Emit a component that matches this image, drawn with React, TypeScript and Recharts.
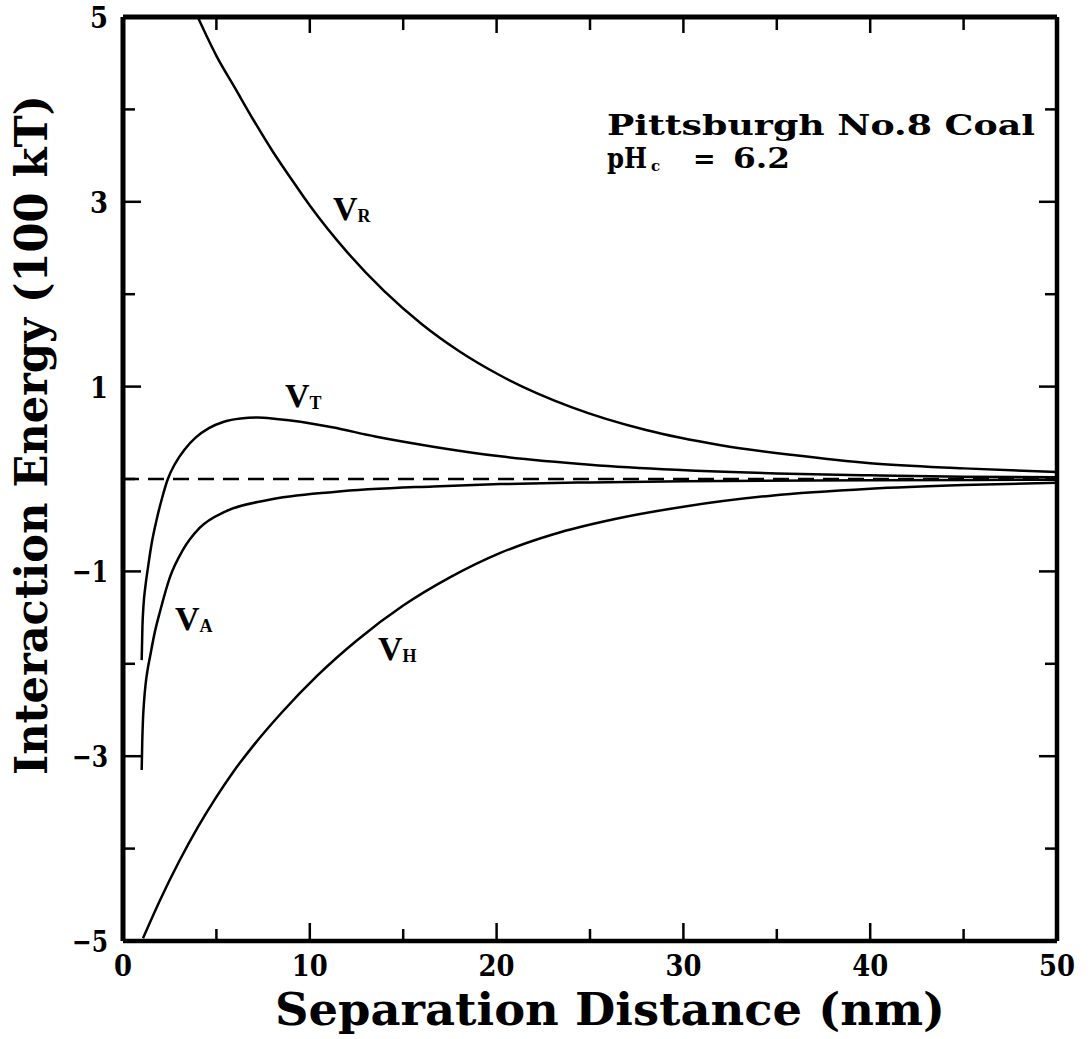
import { LineChart, Line, XAxis, YAxis, ReferenceLine } from 'recharts';

// values: energy in units of 100 kT vs separation in nm
const xTicks = [0, 5, 10, 15, 20, 25, 30, 35, 40, 45, 50];
const yTicks = [-5, -4, -3, -2, -1, 0, 1, 2, 3, 4, 5];

// V_R: double-layer repulsion
const vrX = [4.0, 5, 6, 7, 8, 9, 10, 12, 14, 16, 18, 20.2, 24, 28, 32, 36, 40, 45, 50];
const vrY = [5.0, 4.58, 4.23, 3.88, 3.55, 3.25, 2.96, 2.455, 2.03, 1.675, 1.383, 1.12, 0.778, 0.53, 0.366, 0.256, 0.17, 0.115, 0.075];

// V_T: total
const vtX = [1.0, 1.04, 1.1, 1.2, 1.35, 1.55, 1.8, 2.1, 2.4, 2.8, 3.3, 3.9, 4.6, 5.4, 6.3, 7.2, 8.2, 9.5, 11.2, 13.5, 16.6, 20.2, 25, 29.6, 35, 40, 45, 50];
const vtY = [-1.96, -1.6, -1.36, -1.16, -0.94, -0.68, -0.44, -0.2, 0, 0.17, 0.32, 0.45, 0.55, 0.62, 0.655, 0.665, 0.65, 0.62, 0.56, 0.46, 0.35, 0.245, 0.155, 0.1, 0.06, 0.04, 0.025, 0.018];

// V_A: van der Waals attraction
const vaX = [1.0, 1.03, 1.07, 1.13, 1.21, 1.32, 1.45, 1.7, 2.0, 2.5, 3.2, 4.1, 5.5, 7.7, 11.3, 16.6, 20.2, 25, 30, 40, 50];
const vaY = [-3.15, -2.85, -2.6, -2.4, -2.22, -2.06, -1.92, -1.66, -1.42, -1.07, -0.77, -0.53, -0.35, -0.23, -0.14, -0.08, -0.055, -0.037, -0.025, -0.013, -0.008];

// V_H: hydrophobic attraction
const vhX = [1.07, 2, 3, 4, 5, 5.9, 7, 8.5, 10.4, 12.5, 15, 17.5, 20.2, 23, 26.4, 30, 34.7, 40, 45, 50];
const vhY = [-4.97, -4.55, -4.14, -3.77, -3.44, -3.17, -2.88, -2.527, -2.128, -1.75, -1.37, -1.065, -0.8, -0.6, -0.43, -0.3, -0.18, -0.105, -0.065, -0.04];

const zip = (xs: number[], ys: number[]) => xs.map((x, i) => ({ x, y: ys[i] }));

const SERIF = '"DejaVu Serif", serif';
const INK = '#000';

function BottomTick({ x, y, payload }: any) {
  const v = payload.value;
  const major = v % 10 === 0;
  return (
    <g>
      <line x1={x} y1={y} x2={x} y2={y - (major ? 18 : 12)} stroke={INK} strokeWidth={2.5} />
      {major && (
        <text x={x} y={y + 35} textAnchor="middle" fontFamily={SERIF} fontWeight="bold" fontSize={30}
          textLength={String(v).length * 18} lengthAdjust="spacingAndGlyphs" fill={INK}>
          {v}
        </text>
      )}
    </g>
  );
}

function TopTick({ x, y, payload }: any) {
  const major = payload.value % 10 === 0;
  return <line x1={x} y1={y} x2={x} y2={y + (major ? 16 : 13)} stroke={INK} strokeWidth={2.5} />;
}

function LeftTick({ x, y, payload }: any) {
  const v = payload.value;
  const major = Math.abs(v) % 2 === 1;
  const label = v < 0 ? `\u2212${-v}` : String(v);
  return (
    <g>
      <line x1={x} y1={y} x2={x + (major ? 18 : 12)} y2={y} stroke={INK} strokeWidth={2.5} />
      {major && (
        <text x={x - 15} y={y + 11} textAnchor="end" fontFamily={SERIF} fontWeight="bold" fontSize={30}
          textLength={label.length * 18} lengthAdjust="spacingAndGlyphs" fill={INK}>
          {label}
        </text>
      )}
    </g>
  );
}

function RightTick({ x, y, payload }: any) {
  const major = Math.abs(payload.value) % 2 === 1;
  return <line x1={x} y1={y} x2={x - (major ? 18 : 12)} y2={y} stroke={INK} strokeWidth={2.5} />;
}

function CurveLabel({ x, y, main, sub }: { x: number; y: number; main: string; sub: string }) {
  return (
    <text x={x} y={y} fontFamily='"Liberation Serif", serif' fontWeight="bold" fill={INK}>
      <tspan fontSize={34}>{main}</tspan>
      <tspan fontSize={18} dy={2}>{sub}</tspan>
    </text>
  );
}

export default function App() {
  return (
    <div style={{ position: 'absolute', left: 0, top: 0, background: '#fff' }}>
      <LineChart width={1091} height={1039} margin={{ top: 16, right: 33, bottom: 38, left: 63 }}>
        <XAxis dataKey="x" type="number" domain={[0, 50]} ticks={xTicks} allowDataOverflow
          height={60} tickSize={0} tickMargin={0} tickLine={false} tick={BottomTick}
          axisLine={{ stroke: INK, strokeWidth: 4.5 }} />
        <XAxis xAxisId="top" orientation="top" dataKey="x" type="number" domain={[0, 50]} ticks={xTicks}
          allowDataOverflow height={1} tickSize={0} tickMargin={0} tickLine={false} tick={TopTick}
          axisLine={{ stroke: INK, strokeWidth: 5 }} />
        <YAxis type="number" domain={[-5, 5]} ticks={yTicks} allowDataOverflow width={60}
          tickSize={0} tickMargin={0} tickLine={false} tick={LeftTick}
          axisLine={{ stroke: INK, strokeWidth: 5 }} />
        <YAxis yAxisId="right" orientation="right" type="number" domain={[-5, 5]} ticks={yTicks}
          allowDataOverflow width={1} tickSize={0} tickMargin={0} tickLine={false} tick={RightTick}
          axisLine={{ stroke: INK, strokeWidth: 4.5 }} />

        <ReferenceLine y={0} stroke={INK} strokeWidth={2.5} strokeDasharray="16 9" />

        <Line data={zip(vrX, vrY)} dataKey="y" type="monotone" stroke={INK} strokeWidth={2.5}
          dot={false} activeDot={false} isAnimationActive={false} />
        <Line data={zip(vtX, vtY)} dataKey="y" type="monotone" stroke={INK} strokeWidth={2.5}
          dot={false} activeDot={false} isAnimationActive={false} />
        <Line data={zip(vaX, vaY)} dataKey="y" type="monotone" stroke={INK} strokeWidth={2.5}
          dot={false} activeDot={false} isAnimationActive={false} />
        <Line data={zip(vhX, vhY)} dataKey="y" type="monotone" stroke={INK} strokeWidth={2.5}
          dot={false} activeDot={false} isAnimationActive={false} />

        <CurveLabel x={333} y={220} main="V" sub="R" />
        <CurveLabel x={285} y={407} main="V" sub="T" />
        <CurveLabel x={175} y={630} main="V" sub="A" />
        <CurveLabel x={378} y={660} main="V" sub="H" />

        <text x={607} y={135} fontFamily={SERIF} fontWeight="bold" fontSize={27} textLength={428}
          lengthAdjust="spacingAndGlyphs" fill={INK}>
          Pittsburgh No.8 Coal
        </text>
        <text y={168} fontFamily={SERIF} fontWeight="bold" fontSize={27} fill={INK}>
          <tspan x={607} textLength={40} lengthAdjust="spacingAndGlyphs">pH</tspan>
          <tspan x={651} fontSize={15} dy={3}>c</tspan>
          <tspan x={693} dy={-3}>=</tspan>
          <tspan x={733} textLength={57} lengthAdjust="spacingAndGlyphs">6.2</tspan>
        </text>

        <text x={610} y={1025} textAnchor="middle" fontFamily={SERIF} fontWeight="bold" fontSize={45}
          textLength={670} lengthAdjust="spacingAndGlyphs" fill={INK}>
          Separation Distance (nm)
        </text>
        <text x={47} y={435} transform="rotate(-90 47 435)" textAnchor="middle" fontFamily={SERIF}
          fontWeight="bold" fontSize={45} textLength={680} lengthAdjust="spacingAndGlyphs" fill={INK}>
          Interaction Energy (100 kT)
        </text>
      </LineChart>
    </div>
  );
}
